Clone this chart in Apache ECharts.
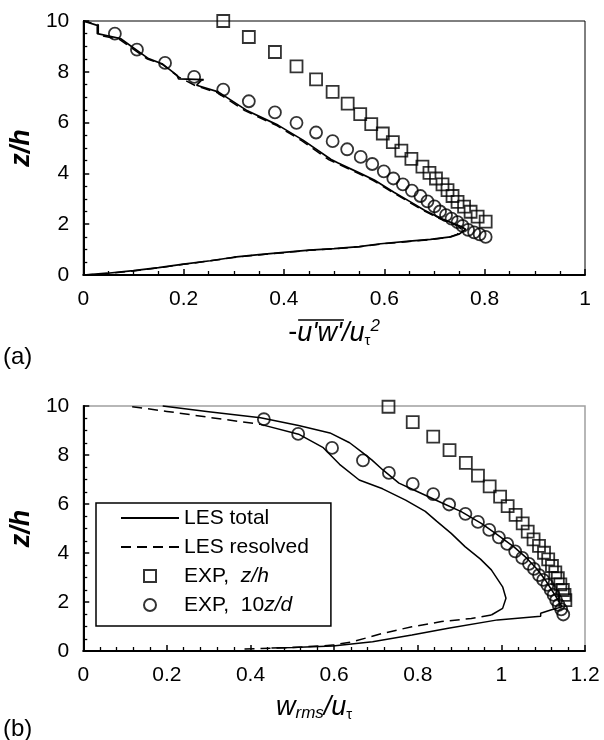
<!DOCTYPE html>
<html><head><meta charset="utf-8">
<script src="https://cdn.jsdelivr.net/npm/echarts@6/dist/echarts.min.js"></script>
<style>html,body{margin:0;padding:0;background:#fff}#c{width:604px;height:740px}</style>
</head><body><div id="c"></div>
<script>
// ---------- Panel (a): -u'w'/u_tau^2 ----------
const aTotalX = [0,0.048,0.10,0.15,0.20,0.253,0.30,0.35,0.40,0.45,0.50,0.55,0.593,0.65,0.692,0.732,0.750,0.762,0.752,0.712,0.68,0.659,0.62,0.58,0.55,0.507,0.494,0.438,0.388,0.325,0.269,0.226,0.235,0.240,0.19,0.187,0.157,0.130,0.074,0.028,0.028,0];
const aTotalY = [0,0.07,0.17,0.29,0.43,0.56,0.70,0.80,0.89,0.98,1.04,1.12,1.23,1.33,1.40,1.50,1.62,1.80,1.92,2.23,2.55,2.80,3.25,3.74,4.02,4.42,4.55,5.31,5.90,6.49,7.21,7.47,7.66,7.69,7.72,7.86,8.32,8.52,9.31,9.50,9.83,10];
const aResX = [0,0.05,0.10,0.15,0.20,0.25,0.30,0.35,0.40,0.45,0.50,0.55,0.593,0.65,0.69,0.728,0.745,0.755,0.748,0.71,0.678,0.656,0.618,0.578,0.548,0.505,0.49,0.436,0.386,0.322,0.267,0.224,0.19,0.157,0.128,0.072,0.03,0.03,0];
const aResY = [0,0.06,0.16,0.28,0.42,0.55,0.69,0.79,0.88,0.97,1.03,1.11,1.22,1.32,1.39,1.48,1.60,1.78,1.92,2.22,2.54,2.79,3.24,3.72,4.00,4.40,4.53,5.28,5.88,6.47,7.18,7.45,7.80,8.30,8.50,9.28,9.45,9.85,10];
const aSqX = [0.279,0.330,0.382,0.425,0.464,0.497,0.527,0.552,0.574,0.597,0.617,0.634,0.654,0.676,0.690,0.703,0.716,0.726,0.736,0.746,0.759,0.772,0.786,0.802];
const aSqY = [10.0,9.37,8.78,8.21,7.70,7.21,6.75,6.33,5.94,5.57,5.23,4.90,4.57,4.27,4.02,3.80,3.57,3.34,3.11,2.88,2.69,2.49,2.30,2.10];
const aCirX = [0.063,0.107,0.163,0.221,0.279,0.330,0.382,0.425,0.464,0.497,0.526,0.553,0.576,0.599,0.618,0.637,0.655,0.672,0.686,0.700,0.711,0.723,0.734,0.746,0.756,0.767,0.779,0.790,0.802];
const aCirY = [9.50,8.87,8.35,7.80,7.30,6.84,6.40,5.99,5.61,5.27,4.95,4.65,4.37,4.08,3.80,3.57,3.32,3.11,2.90,2.70,2.50,2.36,2.22,2.08,1.93,1.78,1.68,1.60,1.50];

// ---------- Panel (b): w_rms/u_tau ----------
const bTotalX = [0.19,0.30,0.424,0.515,0.59,0.637,0.668,0.69,0.716,0.755,0.80,0.857,0.904,0.952,0.99,1.03,1.06,1.085,1.105,1.12,1.135,1.145,1.118,1.094,1.094,0.991,0.873,0.786,0.692,0.597,0.50,0.45];
const bTotalY = [10.0,9.77,9.52,9.20,8.90,8.50,8.10,7.80,7.40,6.85,6.50,6.05,5.69,5.21,4.75,4.25,3.80,3.35,2.90,2.50,2.10,1.80,1.67,1.54,1.42,1.27,0.93,0.65,0.38,0.20,0.14,0.12];
const bResX = [0.117,0.20,0.30,0.424,0.515,0.574,0.613,0.660,0.716,0.771,0.818,0.845,0.88,0.913,0.95,0.976,1.003,1.011,1.003,0.976,0.928,0.857,0.786,0.716,0.645,0.597,0.50,0.38];
const bResY = [9.97,9.78,9.54,9.25,8.85,8.30,7.62,6.98,6.62,6.16,5.70,5.30,4.80,4.26,3.75,3.31,2.62,2.15,1.74,1.47,1.33,1.20,0.99,0.72,0.38,0.24,0.14,0.08];
const bSqX = [0.730,0.788,0.837,0.876,0.915,0.944,0.972,0.997,1.015,1.034,1.051,1.063,1.077,1.090,1.102,1.112,1.121,1.129,1.135,1.141,1.147,1.151,1.153];
const bSqY = [9.97,9.34,8.75,8.20,7.68,7.16,6.72,6.30,5.91,5.56,5.21,4.87,4.56,4.29,4.01,3.74,3.47,3.21,2.97,2.72,2.49,2.29,2.08];
const bCirX = [0.432,0.514,0.595,0.669,0.731,0.788,0.837,0.875,0.914,0.944,0.971,0.994,1.014,1.033,1.050,1.066,1.078,1.090,1.100,1.110,1.118,1.125,1.131,1.137,1.143,1.148];
const bCirY = [9.46,8.86,8.29,7.78,7.27,6.82,6.40,5.98,5.60,5.27,4.94,4.64,4.37,4.07,3.80,3.56,3.35,3.10,2.90,2.70,2.49,2.29,2.08,1.88,1.70,1.49];

const yTicks = [0,2,4,6,8,10];
const aXTicks = [0,0.2,0.4,0.6,0.8,1];
const bXTicks = [0,0.2,0.4,0.6,0.8,1,1.2];
const legendNames = ['LES total','LES resolved','EXP, z/h','EXP, 10z/d'];

const zip = (xs, ys) => xs.map((x, i) => [x, ys[i]]);
const FONT = "'Liberation Sans', Arial, sans-serif";
const DASH = [10, 6];
const TICKF = 21, NAMEF = 27;

function valueAxis(grid, max, interval, minorSplit, ticks, margin) {
  return {
    type: 'value', gridIndex: grid, min: 0, max: max, interval: interval,
    axisLine: {show: true, onZero: false, lineStyle: {color: '#000', width: 2}},
    axisTick: {show: true, inside: true, length: 6, lineStyle: {color: '#000', width: 1.5}},
    minorTick: {show: true, splitNumber: minorSplit, length: 4, lineStyle: {color: '#000', width: 1.3}},
    splitLine: {show: false},
    axisLabel: {color: '#000', fontSize: TICKF, fontFamily: FONT, margin: margin,
      formatter: v => (ticks.some(t => Math.abs(t - v) < 1e-9) ? String(+v.toFixed(2)) : '')}
  };
}

const lineS = (name, xi, data, dash, width) => ({
  name: name, type: 'line', xAxisIndex: xi, yAxisIndex: xi, data: data,
  symbol: 'none', showSymbol: false, smooth: false, clip: false, z: 3,
  lineStyle: {color: '#000', width: width, type: dash ? DASH : 'solid'}
});
const markS = (name, xi, data, sym, size) => ({
  name: name, type: 'scatter', xAxisIndex: xi, yAxisIndex: xi, data: data,
  symbol: sym, symbolSize: size, clip: false, z: 2,
  itemStyle: {color: 'rgba(0,0,0,0)', borderColor: '#000', borderWidth: 1.8}
});

// overline over u'w' in the panel (a) axis title (decoration, measured from the text)
const gridA = {left: 81, width: 504};
const mctx = document.createElement('canvas').getContext('2d');
function tw(txt, size, italic) { mctx.font = (italic ? 'italic ' : '') + size + 'px ' + FONT; return mctx.measureText(txt).width; }
const wDash = tw('-', NAMEF, false), wUW = tw("u'w'", NAMEF, true);
const wTot = wDash + wUW + tw('/u', NAMEF, true) + tw('τ', 15, false) + tw('2', 17, true);
const nameStart = gridA.left + gridA.width / 2 - wTot / 2;
const olX1 = nameStart + wDash + 2, olX2 = olX1 + wUW + 1;

const bRes = zip(bResX, bResY);
const chart = echarts.init(document.getElementById('c'), null, {renderer: 'canvas'});
chart.setOption({
  animation: false,
  backgroundColor: '#fff',
  title: [
    {text: '(a)', left: 3, top: 345, padding: 0, textStyle: {fontSize: 24, fontWeight: 'normal', fontFamily: FONT, color: '#000'}},
    {text: '(b)', left: 3, top: 717, padding: 0, textStyle: {fontSize: 24, fontWeight: 'normal', fontFamily: FONT, color: '#000'}}
  ],
  grid: [
    {left: 81, top: 21, width: 504, height: 254, show: true, borderColor: '#000', borderWidth: 1, backgroundColor: 'transparent'},
    {left: 77, top: 406, width: 508, height: 245, show: true, borderColor: '#a0a0a0', borderWidth: 1.5, backgroundColor: 'transparent'}
  ],
  xAxis: [
    Object.assign(valueAxis(0, 1, 0.2, 4, aXTicks, 14), {
      name: "{n|-}{i|u'w'}{i|/u}{s|τ}{p|2}", nameLocation: 'middle', nameGap: 43,
      nameTextStyle: {color: '#000', fontFamily: FONT, rich: {
        n: {fontSize: NAMEF, fontFamily: FONT, lineHeight: 30, color: '#000'},
        i: {fontSize: NAMEF, fontStyle: 'italic', fontFamily: FONT, lineHeight: 30, color: '#000'},
        s: {fontSize: 15, fontFamily: FONT, lineHeight: 16, verticalAlign: 'bottom', color: '#000'},
        p: {fontSize: 17, fontStyle: 'italic', fontFamily: FONT, lineHeight: 17, verticalAlign: 'top', color: '#000'}
      }}
    }),
    Object.assign(valueAxis(1, 1.2, 0.2, 5, bXTicks, 14), {
      name: "{i|w}{s|rms}{i|/u}{t|τ}", nameLocation: 'middle', nameGap: 41,
      nameTextStyle: {color: '#000', fontFamily: FONT, padding: [0, 40, 0, 0], rich: {
        i: {fontSize: NAMEF, fontStyle: 'italic', fontFamily: FONT, lineHeight: 30, color: '#000'},
        s: {fontSize: 17, fontStyle: 'italic', fontFamily: FONT, lineHeight: 18, verticalAlign: 'bottom', color: '#000'},
        t: {fontSize: 15, fontFamily: FONT, lineHeight: 16, verticalAlign: 'bottom', color: '#000'}
      }}
    })
  ],
  yAxis: [
    Object.assign(valueAxis(0, 10, 2, 4, yTicks, 14), {
      name: 'z/h', nameLocation: 'middle', nameGap: 34, nameRotate: 90,
      nameTextStyle: {fontSize: NAMEF, fontWeight: 'bold', fontStyle: 'italic', fontFamily: FONT, color: '#000'}
    }),
    Object.assign(valueAxis(1, 10, 2, 4, yTicks, 14), {
      name: 'z/h', nameLocation: 'middle', nameGap: 35, nameRotate: 90,
      nameTextStyle: {fontSize: NAMEF, fontWeight: 'bold', fontStyle: 'italic', fontFamily: FONT, color: '#000'}
    })
  ],
  legend: {
    data: [
      {name: legendNames[0], itemStyle: {opacity: 0}},
      {name: legendNames[1], itemStyle: {opacity: 0}},
      {name: legendNames[2], icon: 'path://M0,0L10,0L10,10L0,10Z'},
      {name: legendNames[3], icon: 'circle'}
    ],
    orient: 'vertical', left: 96, top: 503,
    itemWidth: 58, itemHeight: 12, itemGap: 7, padding: [4, 22, 10, 24],
    symbolKeepAspect: true,
    borderColor: '#000', borderWidth: 1.5, backgroundColor: '#fff', borderRadius: 0,
    selectedMode: false,
    textStyle: {fontSize: 21, lineHeight: 22, fontFamily: FONT, color: '#000', rich: {
      r: {fontSize: 21, lineHeight: 22, fontFamily: FONT, color: '#000'},
      i: {fontSize: 21, lineHeight: 22, fontStyle: 'italic', fontFamily: FONT, color: '#000'}
    }},
    formatter: function (name) {
      if (name === 'EXP, z/h') return '{r|EXP,  }{i|z/h}';
      if (name === 'EXP, 10z/d') return '{r|EXP,  10}{i|z/d}';
      return '{r|' + name + '}';
    }
  },
  graphic: [
    {type: 'line', shape: {x1: olX1, y1: 320, x2: olX2, y2: 320}, style: {stroke: '#000', lineWidth: 1.5}, silent: true}
  ],
  series: [
    lineS('LES total', 1, zip(bTotalX, bTotalY), false, 1.5),
    lineS('LES resolved', 1, bRes.slice(0, 4), true, 1.5),
    lineS('LES resolved', 1, bRes.slice(3, 20), false, 1.5),
    lineS('LES resolved', 1, bRes.slice(19), true, 1.5),
    markS('EXP, z/h', 1, zip(bSqX, bSqY), 'rect', 12),
    markS('EXP, 10z/d', 1, zip(bCirX, bCirY), 'circle', 12),
    lineS('LES total', 0, zip(aTotalX, aTotalY), false, 1.7),
    lineS('LES resolved', 0, zip(aResX, aResY), true, 1.5),
    markS('EXP, z/h', 0, zip(aSqX, aSqY), 'rect', 12),
    markS('EXP, 10z/d', 0, zip(aCirX, aCirY), 'circle', 12)
  ]
});
</script>
</body></html>
